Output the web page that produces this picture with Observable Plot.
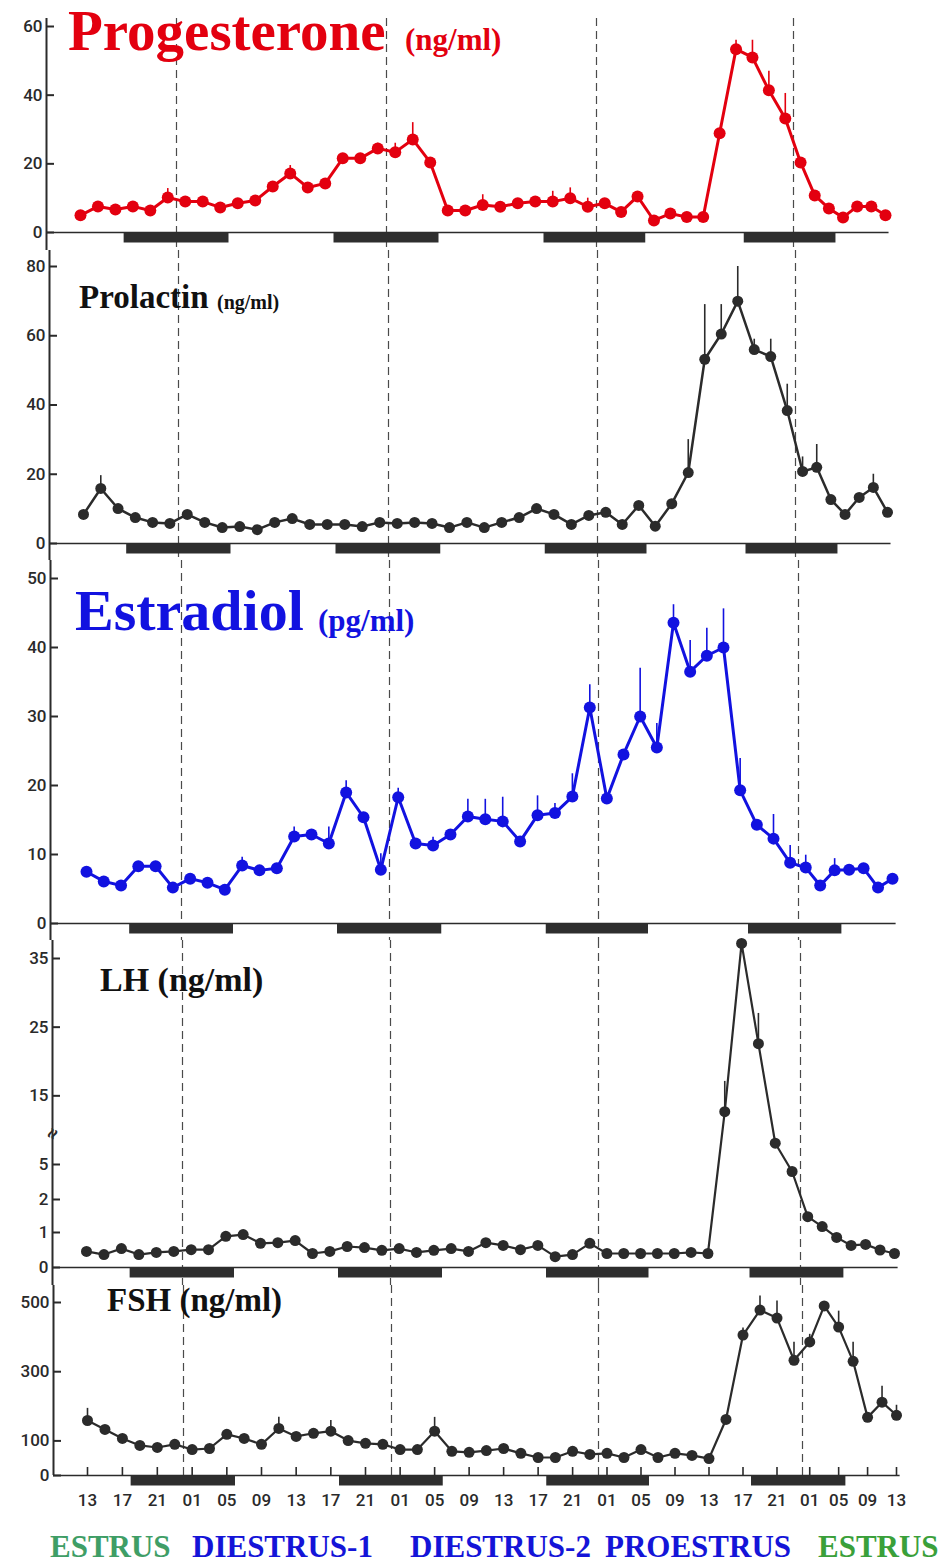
<!DOCTYPE html>
<html><head><meta charset="utf-8">
<script src="https://cdn.jsdelivr.net/npm/d3@7"></script>
<script src="https://cdn.jsdelivr.net/npm/@observablehq/plot@0.6"></script>
<style>
body{margin:0;background:#fff;}
#wrap{position:relative;width:952px;height:1565px;overflow:hidden;}
#wrap svg{position:absolute;left:0;overflow:visible;background:transparent;}
.lbl{position:absolute;white-space:nowrap;font-weight:bold;line-height:1;font-family:"Liberation Serif","Times New Roman",serif;}
</style></head><body><div id="wrap"></div>
<script>
const _ = null;
// sampling times: hours after 13:00 on the first day (every 2 h)
const times = [0,2,4,6,8,10,12,14,16,18,20,22,24,26,28,30,32,34,36,38,40,42,44,46,48,50,52,54,56,58,60,62,64,66,68,70,72,74,76,78,80,82,84,86,88,90,92,94,96];
const tickHours = [0,4,8,12,16,20,24,28,32,36,40,44,48,52,56,60,64,68,72,76,80,84,88,92,96];
const tickLabels = ["13","17","21","01","05","09","13","17","21","01","05","09","13","17","21","01","05","09","13","17","21","01","05","09","13"];
const midnights = [11,35,59,83];
const nightStart = [5,29,53,77];
const nightEnd = [17,41,65,89];
const stages = ["ESTRUS","DIESTRUS-1","DIESTRUS-2","PROESTRUS","ESTRUS"];

// Progesterone (ng/ml)
const progesterone = [5.0,7.6,6.7,7.6,6.4,10.2,9.0,9.0,7.3,8.5,9.3,13.4,17.2,13.1,14.3,21.6,21.6,24.5,23.4,27.1,20.4,6.4,6.4,8.0,7.5,8.5,9.0,9.0,10.0,7.5,8.5,6.0,10.5,3.5,5.5,4.5,4.5,28.9,53.4,51.0,41.4,33.2,20.4,10.8,7.0,4.4,7.6,7.6,5.0];
const progesteroneHi = [_,_,_,_,_,12.8,_,_,_,_,_,_,19.5,_,_,_,_,26,26,32,_,_,_,11,_,_,_,12,13,10,_,_,_,_,_,_,_,_,56,56,47,40.5,_,_,_,_,_,_,_];
// Prolactin (ng/ml)
const prolactin = [8.4,15.9,10.1,7.5,6.1,5.8,8.4,6.1,4.6,4.9,4.0,6.1,7.2,5.5,5.5,5.5,4.9,6.1,5.8,6.1,5.8,4.6,6.1,4.6,6.1,7.5,10.1,8.4,5.5,8.1,9.0,5.5,11.0,5.0,11.5,20.5,53.2,60.5,70.0,56.0,54.0,38.4,20.8,22.0,12.7,8.4,13.3,16.2,9.0];
const prolactinHi = [_,19.6,_,_,_,_,_,_,_,_,_,_,_,_,_,_,_,_,_,_,_,_,_,_,_,_,_,_,_,_,_,_,_,_,_,30,69,69,80,59,59,46,25,28.6,_,_,_,20,_];
// Estradiol (pg/ml)
const estradiol = [7.5,6.1,5.5,8.3,8.3,5.2,6.5,5.9,4.9,8.4,7.7,8.0,12.6,12.9,11.6,19.0,15.4,7.8,18.3,11.6,11.3,12.9,15.5,15.1,14.8,11.9,15.7,16.0,18.4,31.3,18.1,24.5,30.0,25.5,43.6,36.5,38.8,40.0,19.3,14.3,12.3,8.8,8.1,5.5,7.7,7.8,8.0,5.2,6.5];
const estradiolHi = [_,_,_,_,_,_,_,_,_,9.6,_,_,14,_,14,20.7,_,10.1,19.6,_,12.5,_,18,18,18.3,_,18.5,17.4,21.7,34.6,_,_,37,29,46.2,41,42.8,45.6,23.9,_,15.8,11.3,9.9,_,9.4,_,_,_,_];
// LH (ng/ml)
const lh = [0.46,0.37,0.54,0.37,0.43,0.46,0.51,0.51,0.89,0.94,0.69,0.71,0.77,0.40,0.46,0.60,0.57,0.49,0.54,0.43,0.49,0.54,0.46,0.71,0.63,0.51,0.63,0.31,0.37,0.69,0.40,0.40,0.40,0.40,0.40,0.43,0.40,12.7,37.2,22.6,8.1,4.4,1.48,1.18,0.86,0.63,0.66,0.50,0.40];
const lhHi = [_,_,_,_,_,_,_,_,_,_,_,_,_,_,_,_,_,_,_,_,_,_,_,_,_,_,_,_,_,_,_,_,_,_,_,_,_,17.1,_,27,_,_,_,_,_,_,_,_,_];
// FSH (ng/ml)
const fsh = [159,133,107,87,81,90,75,78,119,107,90,136,113,122,128,101,93,90,75,75,128,70,67,72,78,64,52,52,70,61,64,52,75,52,64,58,49,162,406,478,455,333,386,490,429,330,168,212,174];
const fshHi = [194,_,_,_,_,_,_,_,_,_,_,168,_,_,159,_,_,_,_,_,168,_,_,_,_,_,_,_,_,_,_,_,_,_,_,_,_,_,426,519,504,385,408,_,475,385,_,258,203];

const progTicks = [0,20,40,60];
const prlTicks = [0,20,40,60,80];
const e2Ticks = [0,10,20,30,40,50];
const lhTicks = [0,1,2,5,15,25,35];
const fshTicks = [0,100,300,500];
const lhBreak = [9.5];

const wrap = document.getElementById("wrap");
// breakpoints of the (hand-drawn, slightly uneven) time axis
const xBreaks = [-4, 0, 11, 35, 59, 83, 96];
const ink = "#2b2b2b";
const nights = nightStart.map((s, i) => ({s, e: nightEnd[i]}));
const tickLabelOf = new Map(tickHours.map((h, i) => [h, tickLabels[i]]));

const panels = [
  {top:0, height:250, marginTop:18, xRange:[46,80,176,386,596,793,885], yDomain:[0,60], yRange:[232,26], ticks:progTicks, values:progesterone, hi:progesteroneHi, color:"#e3000f", lw:3, r:6},
  {top:250, height:310, xRange:[49,83,178,388,597,795,887], yDomain:[0,80], yRange:[293,16], ticks:prlTicks, values:prolactin, hi:prolactinHi, color:ink, lw:2.5, r:5.5},
  {top:560, height:380, xRange:[50,86,181,389,598,798,892], yDomain:[0,50], yRange:[363,18], ticks:e2Ticks, values:estradiol, hi:estradiolHi, color:"#1212e0", lw:3, r:6},
  {top:940, height:345, xRange:[52,86,182,390,598,800,894], yDomain:[0,1,2,5,35], yRange:[327,292,259,224,18], ticks:lhTicks, values:lh, hi:lhHi, color:ink, lw:2.2, r:5.5, brk:true},
  {top:1285, height:240, marginBottom:50, xRange:[53,87,183,391,598,802,896], yDomain:[0,500], yRange:[190,17], ticks:fshTicks, values:fsh, hi:fshHi, color:ink, lw:2.2, r:5.5, xAxis:true}
];

for (const p of panels) {
  const data = times.map((t, i) => ({t, v: p.values[i], hi: p.hi[i]}));
  const errs = data.filter(d => d.hi != null);
  const warpX = d3.scaleLinear().domain(xBreaks).range(p.xRange);
  const warpY = d3.scaleLinear().domain(p.yDomain).range(p.yRange);
  const marks = [
    Plot.ruleX(midnights, {stroke:"#4a4a4a", strokeWidth:1.2, strokeDasharray:"8,5"}),
    Plot.ruleX([xBreaks[0]], {stroke:ink, strokeWidth:2}),
    Plot.ruleY([0], {x1: xBreaks[0], x2: 96.5, stroke:ink, strokeWidth:1.6}),
    Plot.ruleY(nights, {y: () => 0, x1:"s", x2:"e", dy:5, strokeWidth:10, stroke:"#2e2e2e"}),
    Plot.axisY(p.ticks, {anchor:"left", tickSize:-8, tickPadding:12, fontSize:17, fontWeight:500, color:"#2a2a2a", strokeWidth:2, tickFormat: d => String(d)}),
    Plot.ruleX(errs, {x:"t", y1:"v", y2:"hi", stroke:p.color, strokeWidth:1.6}),
    Plot.line(data, {x:"t", y:"v", stroke:p.color, strokeWidth:p.lw, strokeLinejoin:"round"}),
    Plot.dot(data, {x:"t", y:"v", r:p.r, fill:p.color})
  ];
  if (p.brk) marks.push(Plot.text(lhBreak, {x: () => xBreaks[0], y: d => d, text: () => "≈", rotate: -65, fontSize: 20, fontWeight: "bold", fill: ink}));
  if (p.xAxis) marks.push(Plot.axisX(tickHours, {anchor:"bottom", tickSize:-8, tickPadding:26, fontSize:17, fontWeight:500, color:"#2a2a2a", strokeWidth:1.6, tickFormat: d => tickLabelOf.get(d)}));
  const svg = Plot.plot({
    width: 952, height: p.height,
    marginLeft: p.xRange[0], marginRight: 0,
    marginTop: p.marginTop || 0, marginBottom: p.marginBottom || 0,
    style: {fontFamily: "Roboto, 'DejaVu Sans', sans-serif", background: "transparent", overflow: "visible"},
    // the scale transform applies the measured breakpoints; the scale itself is then the identity on pixels
    x: {type: "linear", transform: warpX, domain: [0, 952], range: [0, 952], axis: null},
    y: {type: "linear", transform: warpY, domain: [0, p.height], range: [0, p.height], axis: null},
    marks
  });
  svg.style.top = p.top + "px";
  wrap.appendChild(svg);
}

function label(txt, left, baseline, size, color) {
  const s = document.createElement("div");
  s.className = "lbl";
  s.textContent = txt;
  s.style.left = left + "px";
  s.style.top = (baseline - 0.8375 * size) + "px";
  s.style.fontSize = size + "px";
  s.style.color = color;
  wrap.appendChild(s);
}
label("Progesterone", 68, 50, 57, "#e3000f");
label("(ng/ml)", 405, 50, 31, "#e3000f");
label("Prolactin", 79, 309, 33, "#111");
label("(ng/ml)", 217, 309, 20, "#111");
label("Estradiol", 75, 631, 58, "#1212e0");
label("(pg/ml)", 318, 631, 31, "#1212e0");
label("LH (ng/ml)", 100, 991, 34, "#111");
label("FSH (ng/ml)", 107, 1312, 33, "#111");

const stageLeft = [50, 192, 410, 605, 818];
const stageColor = ["#3f9e66", "#1414d8", "#1414d8", "#1414d8", "#3aa03a"];
stages.forEach((s, i) => label(s, stageLeft[i], 1557, 31, stageColor[i]));
</script>
</body></html>
